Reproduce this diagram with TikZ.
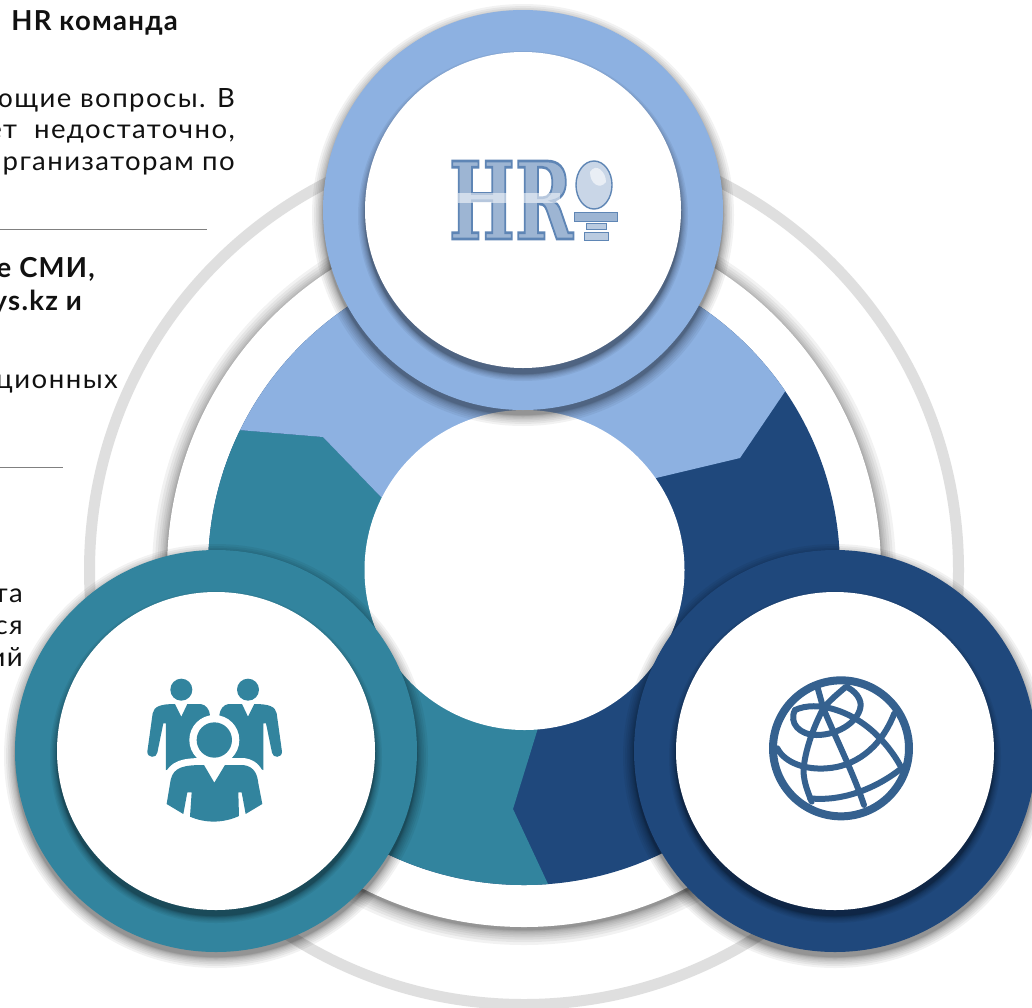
\documentclass[tikz,border=0pt]{standalone}
\usepackage{fontspec}
\usepackage{graphicx}
\setmainfont{Lato}
\newfontfamily\hrfont{DejaVu Serif}
\definecolor{lightb}{HTML}{8DB1E1}
\definecolor{tealc}{HTML}{32849E}
\definecolor{navyc}{HTML}{1F487C}
\definecolor{grayr}{HTML}{DFDFDF}
\definecolor{rulec}{HTML}{808080}
\definecolor{globec}{HTML}{35618F}
\definecolor{hrfill}{HTML}{9DB5D3}
\definecolor{hredge}{HTML}{5F86B5}
\definecolor{txtc}{HTML}{111111}
\newcommand{\softshade}[5]{%
  \foreach \k in {0,...,9}{\fill[black,opacity=0.05] (#1,#2+#4) circle[radius=#3+#5*(1-\k/10)*(1-\k/10)];}}
\newcommand{\badge}[4]{%
  \softshade{#1}{#2}{#3}{5}{11}%
  \fill[#4] (#1,#2) circle[radius=#3];
  \softshade{#1}{#2}{#3-42}{6}{7}%
  \fill[white] (#1,#2) circle[radius=#3-42];}
\newcommand{\backbody}{%
  \fill[tealc] (135,132) -- (154,170) -- (172,132) -- (212,132) .. controls (228,134) and (238,148) .. (240,165)
    -- (200,300) -- (108,330) -- (108,190) -- (100,190) -- (82,278) .. controls (80,295) and (52,295) .. (52,275)
    -- (68,160) .. controls (72,140) and (90,132) .. (135,132) -- cycle;
  \fill[tealc] (154,89) circle[radius=33];}
\tikzset{
  bodytext/.style={anchor=base east,inner sep=0pt,text=txtc,font=\fontsize{26.5}{28}\selectfont\addfontfeature{LetterSpace=5.5,FakeStretch=1.04}},
  headtext/.style={anchor=base east,inner sep=0pt,text=txtc,font=\fontsize{27.5}{30}\selectfont\bfseries\addfontfeature{LetterSpace=4.5}},
  rulel/.style={draw=rulec,line width=0.9pt},
  globel/.style={draw=globec,line width=6pt,line cap=round,line join=round},
}
\begin{document}
\begin{tikzpicture}[x=1pt,y=-1pt]
\useasboundingbox (0,0) rectangle (1032,1007);
\fill[white] (0,0) rectangle (1032,1007);
% outer grey ring
\fill[grayr,even odd rule] (524,570) circle[radius=440] (524,570) circle[radius=429];
% white disc with shadow
\softshade{524}{570}{357}{3}{15}
\fill[white] (524,570) circle[radius=357];
% donut
\begin{scope}
\clip (524,569) circle[radius=316];
\fill[navyc] (150,200) rectangle (900,950);
\fill[tealc] (139,422) -- (239,430) -- (323,437) -- (381,497) -- (524,570) -- (538,728) -- (513,809) -- (548,884) -- (570,1000) -- (0,1000) -- cycle;
\fill[lightb] (139,422) -- (239,430) -- (323,437) -- (381,497) -- (524,570) -- (656,478) -- (740,458) -- (786,390) -- (850,290) -- (850,0) -- (100,0) -- cycle;
\end{scope}
\fill[white] (524.5,570) circle[radius=160];
% badges
\badge{523}{210}{200}{lightb}
\badge{216}{751}{201}{tealc}
\badge{835}{751}{201}{navyc}
% HR logo
\node[inner sep=0pt,text=hrfill] (hrtext) at (511,200) {\resizebox{124pt}{78pt}{\special{pdf:code q 2 Tr 0.37 0.52 0.71 RG 0.25 w}\hrfont\bfseries HR\special{pdf:code Q}}};
\fill[white,opacity=0.55] (458,193) rectangle (560,203);
\draw[hredge,line width=1.4pt,fill=hrfill!55!white] (594,185) ellipse[x radius=18,y radius=24];
\fill[white,opacity=0.6] (590,172) .. controls (596,162) and (606,172) .. (606,182) .. controls (600,190) and (590,184) .. (590,172) -- cycle;
\draw[hredge,line width=1pt,fill=hrfill] (574,212) rectangle (617,221);
\draw[hredge,line width=1pt,fill=hrfill!70!white] (586,223) rectangle (606,229);
\draw[hredge,line width=1pt,fill=hrfill!70!white] (584,232) rectangle (608,240);
% people icon
\begin{scope}[shift={(130,660)},x=0.3333pt,y=-0.3333pt]
  \backbody
\end{scope}
\begin{scope}[shift={(299.33,660)},x=-0.3333pt,y=-0.3333pt]
  \backbody
\end{scope}
\begin{scope}[shift={(130,660)},x=0.3333pt,y=-0.3333pt]
  \fill[white] (253,240) circle[radius=75];
  \fill[tealc] (253,240) circle[radius=53];
  \draw[white,line width=14pt,line join=round,fill=white] (222,315) -- (285,315) -- (340,315) .. controls (375,320) and (382,345) .. (385,370) -- (397,432) -- (347,462)
     .. controls (300,495) and (200,495) .. (160,462) -- (110,432) -- (122,360) .. controls (130,320) and (165,315) .. (222,315) -- cycle;
  \fill[tealc] (222,315) -- (253,368) -- (285,315) -- (340,315) .. controls (375,320) and (382,345) .. (385,370) -- (397,432) -- (347,462) -- (335,397) -- (325,397) -- (327,468)
     .. controls (280,490) and (225,490) .. (180,470) -- (185,397) -- (172,397) -- (160,462) -- (110,432) -- (122,360) .. controls (130,320) and (165,315) .. (222,315) -- cycle;
\end{scope}
% globe icon
\begin{scope}[shift={(760,670)},x=0.3333pt,y=-0.3333pt]
  \draw[globec,line width=8pt] (243,235) circle[radius=204];
  \draw[globel] (105,120) .. controls (170,90) and (280,120) .. (360,205) .. controls (385,230) and (410,265) .. (425,295);
  \draw[globel] (105,120) .. controls (85,160) and (120,195) .. (170,195) .. controls (240,195) and (300,150) .. (302,105) .. controls (302,85) and (285,62) .. (258,50) .. controls (235,70) and (210,90) .. (190,115);
  \draw[globel] (172,50) -- (190,115) .. controls (230,210) and (280,310) .. (312,405);
  \draw[globel] (190,115) .. controls (150,190) and (125,280) .. (132,320) .. controls (135,345) and (145,370) .. (155,395);
  \draw[globel] (52,235) .. controls (75,280) and (140,300) .. (200,295) .. controls (280,290) and (360,240) .. (403,130);
  \draw[globel] (150,385) .. controls (240,395) and (340,360) .. (418,300);
\end{scope}
% text
\node[headtext] (t1) at (178,30) {HR команда};
\node[bodytext] (t2) at (235,107) {ющие вопросы. В};
\node[bodytext] (t3) at (235,138) {ет\ \ недостаточно,};
\node[bodytext] (t4) at (235,170) {рганизаторам по};
\coordinate (r1a) at (0,229); \coordinate (r1b) at (207,229);
\draw[rulel] (r1a) -- (r1b);
\node[headtext] (t5) at (95,277) {е СМИ,};
\node[headtext] (t6) at (82,310) {ys.kz и};
\node[bodytext] (t7) at (118,388) {ационных};
\coordinate (r2a) at (0,467); \coordinate (r2b) at (63,467);
\draw[rulel] (r2a) -- (r2b);
\node[bodytext] (t8) at (23,602) {та};
\node[bodytext] (t9) at (23,634) {ся};
\node[bodytext] (t10) at (23,666) {ий};
\end{tikzpicture}
\end{document}
